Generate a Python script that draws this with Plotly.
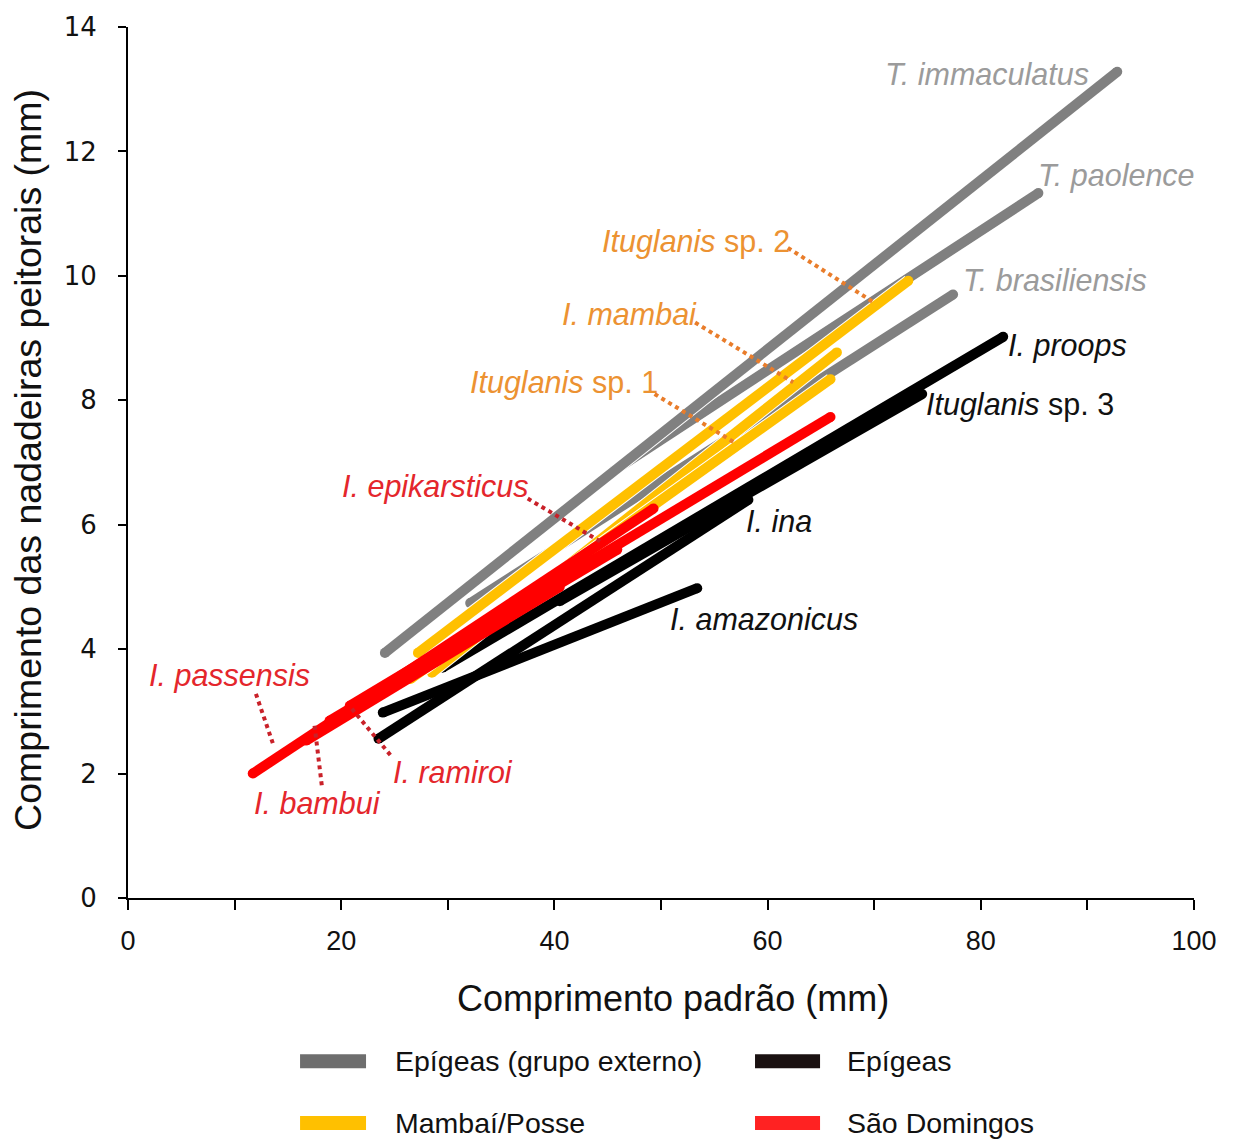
import plotly.graph_objects as go

# ---------------- data (mm) ----------------
# Epígeas (grupo externo) - gray (drawn in this order)
gray_names = ["T. paolence", "T. brasiliensis", "T. immaculatus"]
gray_x = [[45.5, 85.4], [32.1, 77.4], [24.1, 92.8]]
gray_y = [[6.86, 11.33], [4.74, 9.70], [3.94, 13.28]]

# Epígeas - black
black_names = ["I. proops", "Ituglanis sp. 3", "I. ina", "I. amazonicus"]
black_x = [[29.5, 82.1], [40.5, 74.5], [23.5, 58.2], [23.9, 53.4]]
black_y = [[3.70, 9.02], [4.77, 8.10], [2.56, 6.40], [2.98, 4.98]]

# Mambaí/Posse - yellow
yellow_names = ["Ituglanis sp. 2", "I. mambai", "Ituglanis sp. 1"]
yellow_x = [[27.2, 73.2], [28.5, 66.5], [26.5, 65.9]]
yellow_y = [[3.94, 9.92], [3.62, 8.77], [3.52, 8.34]]

# São Domingos - red
red_names = ["I. passensis", "I. bambui", "I. ramiroi", "I. epikarsticus"]
red_x = [[11.7, 49.3], [16.7, 40.5], [20.8, 65.9], [18.9, 45.9]]
red_y = [[2.00, 6.26], [2.53, 5.00], [3.09, 7.73], [2.85, 5.60]]

# species labels
label_text = ["T. immaculatus", "T. paolence", "T. brasiliensis",
              "I. proops", "<i>Ituglanis</i> sp. 3", "I. ina", "I. amazonicus",
              "<i>Ituglanis</i> sp. 2", "I. mambai", "<i>Ituglanis</i> sp. 1",
              "I. epikarsticus", "I. passensis", "I. bambui", "I. ramiroi"]
label_x = [90.3, 85.2, 78.1, 82.4, 74.7, 57.8, 50.7, 62.3, 53.6, 49.9, 37.7, 1.8, 11.6, 24.7]
label_y = [13.25, 11.62, 9.94, 8.88, 7.94, 6.06, 4.48, 10.56, 9.38, 8.29, 6.61, 3.58, 1.52, 2.02]
label_anchor = ["right", "left", "left", "left", "left", "left", "left",
                "right", "right", "right", "right", "left", "left", "left"]
label_group = ["gray", "gray", "gray", "black", "black", "black", "black",
               "orange", "orange", "orange", "red", "red", "red", "red"]
label_italic = [True, True, True, True, False, True, True,
                False, True, False, True, True, True, True]

# dotted leader lines
leader_x = [[61.9, 69.9], [53.2, 62.4], [49.4, 57.1], [37.5, 44.3],
            [12.0, 13.6], [17.5, 18.2], [21.0, 24.8]]
leader_y = [[10.45, 9.58], [9.25, 8.29], [8.10, 7.30], [6.42, 5.73],
            [3.28, 2.48], [2.77, 1.78], [3.04, 2.26]]
leader_group = ["orange", "orange", "orange", "red", "red", "red", "red"]

legend_names = ["Epígeas (grupo externo)", "Epígeas", "Mambaí/Posse", "São Domingos"]
x_title = "Comprimento padrão (mm)"
y_title = "Comprimento das nadadeiras peitorais (mm)"

# ---------------- styles ----------------
line_col = {"gray": "#808080", "black": "#000000", "yellow": "#FFC000", "red": "#FF0000"}
label_col = {"gray": "#9B9B9B", "black": "#111111", "orange": "#EC9232", "red": "#E4262C"}
leader_col = {"orange": "#E97D2B", "red": "#C92129"}
legend_col = ["#6E6E6E", "#1A1111", "#FFC000", "#FF2222"]
FONT = "Liberation Sans, Arial, sans-serif"
LW = 10

fig = go.Figure()


def add_group(names, xs, ys, key, outline):
    for n, x, y in zip(names, xs, ys):
        if outline:
            fig.add_trace(go.Scatter(x=x, y=y, mode="lines",
                                     line=dict(color="white", width=LW + 2),
                                     showlegend=False, hoverinfo="skip"))
        fig.add_trace(go.Scatter(x=x, y=y, mode="lines+markers", name=n,
                                 line=dict(color=line_col[key], width=LW),
                                 marker=dict(color=line_col[key], size=LW, line=dict(width=0)),
                                 showlegend=False))


add_group(gray_names, gray_x, gray_y, "gray", True)
add_group(black_names, black_x, black_y, "black", False)
add_group(yellow_names, yellow_x, yellow_y, "yellow", True)
add_group(red_names, red_x, red_y, "red", False)

for x, y, g in zip(leader_x, leader_y, leader_group):
    fig.add_trace(go.Scatter(x=x, y=y, mode="lines",
                             line=dict(color=leader_col[g], width=4, dash="dot"),
                             showlegend=False, hoverinfo="skip"))

annotations = []
for t, x, y, a, g, it in zip(label_text, label_x, label_y, label_anchor, label_group, label_italic):
    annotations.append(dict(x=x, y=y, xref="x", yref="y", text=(f"<i>{t}</i>" if it else t),
                            showarrow=False, xanchor=a, yanchor="middle",
                            font=dict(family=FONT, size=30.5, color=label_col[g])))

# axis titles
annotations.append(dict(x=0.511, y=-0.115, xref="paper", yref="paper", text=x_title,
                        showarrow=False, xanchor="center", yanchor="middle",
                        font=dict(family=FONT, size=36, color="#111111")))
annotations.append(dict(x=-0.0938, y=0.503, xref="paper", yref="paper", text=y_title,
                        showarrow=False, xanchor="center", yanchor="middle", textangle=-90,
                        font=dict(family=FONT, size=37.5, color="#111111")))

# custom legend (paper coordinates)
shapes = []
leg_sw_x = [(0.1614, 0.2233), (0.5882, 0.6492), (0.1614, 0.2233), (0.5882, 0.6492)]
leg_tx_x = [0.2486, 0.6726, 0.2486, 0.6726]
leg_y = [-0.1874, -0.1874, -0.2583, -0.2583]
for (x0, x1), tx, yy, col, name in zip(leg_sw_x, leg_tx_x, leg_y, legend_col, legend_names):
    shapes.append(dict(type="rect", xref="paper", yref="paper", x0=x0, x1=x1,
                       y0=yy - 0.008, y1=yy + 0.008, fillcolor=col, line=dict(width=0)))
    annotations.append(dict(x=tx, y=yy, xref="paper", yref="paper", text=name, showarrow=False,
                            xanchor="left", yanchor="middle",
                            font=dict(family=FONT, size=28.5, color="#111111")))

fig.update_layout(
    width=1234, height=1140,
    margin=dict(l=128, r=40, t=23, b=242),
    paper_bgcolor="white", plot_bgcolor="white",
    showlegend=False,
    annotations=annotations, shapes=shapes,
    xaxis=dict(range=[0, 100], tickvals=[0, 20, 40, 60, 80, 100], showgrid=False, zeroline=False,
               showline=True, linecolor="black", linewidth=2, ticks="outside", ticklen=10,
               tickwidth=2, tickcolor="black", ticklabelstandoff=8,
               minor=dict(dtick=10, ticks="outside", ticklen=10, tickwidth=2, tickcolor="black"),
               tickfont=dict(family=FONT, size=27, color="#111111")),
    yaxis=dict(range=[0, 14], dtick=2, showgrid=False, zeroline=False,
               showline=True, linecolor="black", linewidth=2, ticks="outside", ticklen=8,
               tickwidth=2, tickcolor="black", ticklabelstandoff=16,
               tickfont=dict(family="DejaVu Sans, Verdana, sans-serif", size=26, color="#111111")),
)

fig.write_html("out.html")
